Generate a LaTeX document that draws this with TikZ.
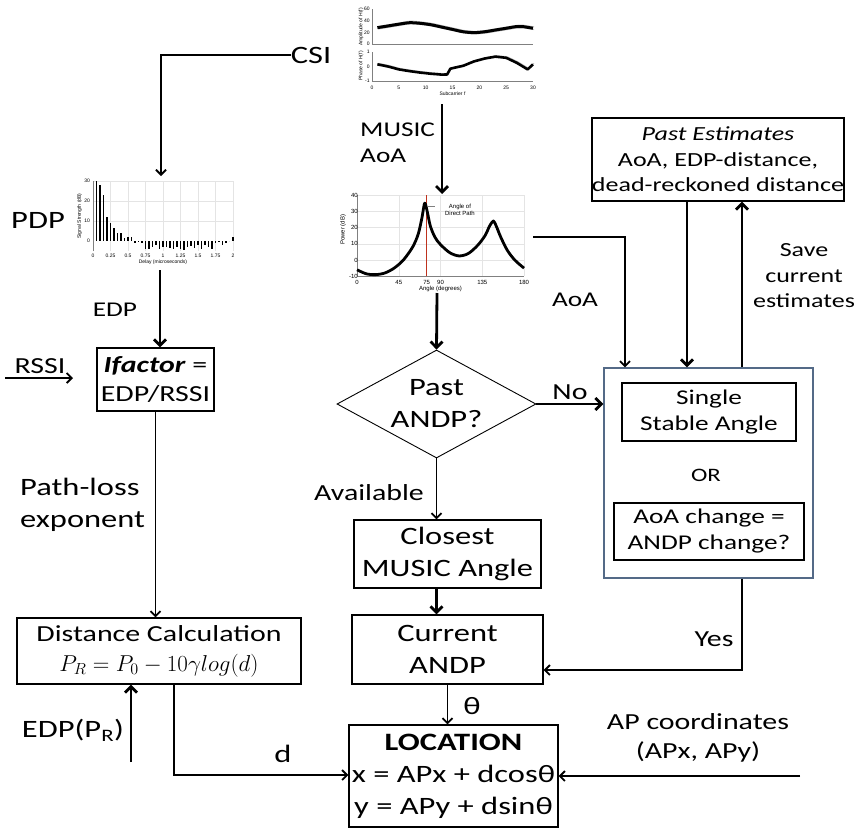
\documentclass[tikz,border=0pt]{standalone}
\usepackage{fix-cm}
\usepackage{fontspec}
\setmainfont{Carlito}[FakeStretch=1.3]
\newfontfamily\plotfont{Liberation Sans}
\usetikzlibrary{arrows.meta,shapes.geometric}

\definecolor{framegray}{RGB}{84,106,135}
\definecolor{gridgray}{RGB}{228,228,228}
\definecolor{pathred}{RGB}{190,50,30}

\newcommand\fa{\fontsize{25}{32}\selectfont}
\newcommand\fb{\fontsize{23}{29}\selectfont}
\newcommand\fc{\fontsize{21}{26}\selectfont}
\newcommand\fd{\fontsize{20}{25.5}\selectfont}

\begin{document}
\begin{tikzpicture}[x=1pt,y=-1pt]

\useasboundingbox (0,0) rectangle (859,833);

\tikzstyle{box}=[draw,line width=1.4pt,align=center,inner sep=0pt,font=\fb];
\tikzstyle{lbl}=[align=center,inner sep=0pt,font=\fb];
\tikzstyle{tiny}=[inner sep=0pt,font=\plotfont\fontsize{5}{5}\selectfont];
\tikzstyle{small}=[inner sep=0pt,font=\plotfont\fontsize{6}{6.5}\selectfont];
\tikzstyle{thin arrow}=[line width=1.8pt,-{Straight Barb[length=5pt,width=10pt]}];
\tikzstyle{thick arrow}=[line width=2.8pt,-{Straight Barb[length=6pt,width=12pt]}];

% CSI plot (amplitude and phase)
\begin{scope}[shift={(372,44)},x=5.367pt,y=0.583pt]
  \draw[gray,line width=0.4pt] (0,0) -- (0,60) (0,0) -- (30,0);
  \foreach \a in {0,20,40,60} \node[tiny,anchor=east] (amp\a) at (-0.4,\a) {\a};
  \foreach \s in {-2.5,2.5}
    \draw[gray!55,line width=0.7pt,shift={(0.2,\s)}] plot[smooth] coordinates {(1,28) (3,31) (5,34) (7,37) (9,35.5) (11,33) (13,29) (15,25) (17,21) (19,19.5) (21,21) (23,24) (25,27) (27,30) (28,30) (30,27)};
  \draw[line width=3pt] plot[smooth] coordinates {(1,28) (3,31) (5,34) (7,36.5) (9,35.5) (11,33) (13,29) (15,25) (17,21) (19,19.5) (21,21) (23,24) (25,27) (27,30) (28,30) (30,27)};
\end{scope}
\begin{scope}[shift={(372,66.5)},x=5.367pt,y=14.5pt]
  \draw[gray,line width=0.4pt] (0,-1) -- (0,1) (0,-1) -- (30,-1);
  \foreach \p/\t in {1/1,0/0,-1/-1} \node[tiny,anchor=east] (ph\p) at (-0.4,\p) {\t};
  \foreach \f in {0,5,...,30} \node[tiny] (sub\f) at (\f,-1.45) {\f};
  \node[tiny] (subcarrier) at (15,-1.9) {Subcarrier f};
  \draw[gray!55,line width=0.7pt,shift={(0.2,0.08)}] (1,0.15) -- (3,0) -- (5,-0.2) -- (7,-0.32) -- (9,-0.42) -- (11,-0.5) -- (13,-0.56) -- (14,-0.55) -- (14.6,-0.15) -- (17,0.05) -- (19,0.35) -- (21,0.55) -- (23,0.68) -- (25,0.6) -- (27,0.25) -- (29,-0.2) -- (30,0.15);
  \draw[line width=2.6pt,line join=round] (1,0.15) -- (3,0) -- (5,-0.2) -- (7,-0.32) -- (9,-0.42) -- (11,-0.5) -- (13,-0.56) -- (14,-0.55) -- (14.6,-0.15) -- (17,0.05) -- (19,0.35) -- (21,0.55) -- (23,0.68) -- (25,0.6) -- (27,0.25) -- (29,-0.2) -- (30,0.15);
\end{scope}
\node[tiny,rotate=90] (amplabel) at (361,27) {Amplitude of H(f)};
\node[tiny,rotate=90] (phlabel) at (361,66) {Phase of H(f)};

% PDP plot
\begin{scope}[shift={(93,241)},x=70pt,y=2pt]
  \foreach \t in {0.25,0.5,...,2} \draw[gridgray,line width=0.5pt] (\t,-5) -- (\t,30);
  \foreach \v in {10,20,30} \draw[gridgray,line width=0.5pt] (0,\v) -- (2,\v);
  \draw[gray,line width=0.5pt] (0,-5) -- (0,30);
  \foreach \v [count=\i] in {30,28,23,12,9,6.5,4,4,1.5,2,2,-1,-0.5,-1,-4,-4,-3,-2,-4,-3,-3,-3.5,-4,-3,-4,-4.5,-3,-2.5,-3.5,-2,-4,-2,-3,-4,-1,-0.5,-2,-1,0,2}
    \fill (0.05*\i-0.013,0) rectangle (0.05*\i+0.013,\v);
  \foreach \v in {0,10,20,30} \node[tiny,anchor=east] (pdpy\v) at (-0.04,\v) {\v};
  \foreach \t [count=\i] in {0,0.25,0.5,0.75,1,1.25,1.5,1.75,2} \node[tiny] (pdpx\i) at (\t,-7.6) {\t};
  \node[tiny] (delay) at (1,-10.6) {Delay (microseconds)};
  \node[tiny,rotate=90] (strength) at (-0.19,12.5) {Signal Strength (dB)};
\end{scope}

% MUSIC spectrum plot
\begin{scope}[shift={(357,260)},x=0.9278pt,y=1.625pt]
  \foreach \a in {45,90,135,180} \draw[gridgray,line width=0.5pt] (\a,-10) -- (\a,40);
  \foreach \v in {0,10,...,40} \draw[gridgray,line width=0.5pt] (0,\v) -- (180,\v);
  \draw[gray,line width=0.5pt] (0,-10) -- (0,40) (0,-10) -- (180,-10);
  \draw[pathred,line width=1.3pt] (75,-10) -- (75,40);
  \draw[line width=2.8pt,line join=round] plot[smooth,tension=0.5] coordinates {(0,-6) (10,-8.5) (20,-9) (30,-8) (40,-5) (50,0) (60,8) (66,16) (70,26) (73,35) (76,29) (79,21) (84,14) (90,9.5) (100,4.5) (110,2.5) (120,4) (130,9) (138,15) (143,21) (147,24) (150,21) (155,14) (162,6) (170,0) (180,-5)};
  \foreach \a in {0,45,75,90,135,180} \node[small] (angx\a) at (\a,-13.6) {\a};
  \foreach \v in {-10,0,10,20,30,40} \node[small,anchor=east] (powy\v) at (1,\v) {\v};
  \node[small] (angle) at (90,-17.6) {Angle (degrees)};
  \node[small,rotate=90] (power) at (-15,18.5) {Power (dB)};
  \draw[gray,line width=0.6pt] (76,33) -- (84,33);
  \node[small,align=center] (direct) at (111,31) {Angle of\\Direct Path};
\end{scope}

% Plot anchors for the connectors
\coordinate (csiplot-s) at (442,104);
\coordinate (music-n) at (442,194);
\coordinate (music-s) at (437,293);
\coordinate (music-e) at (533,237);
\coordinate (pdp-n) at (161,176);
\coordinate (pdp-s) at (160,270);
\coordinate (rssi-w) at (5,378);
\coordinate (rssi-e) at (73,378);
\coordinate (edp-s) at (131,762);
\coordinate (d-corner) at (174,775);
\coordinate (aoa-turn) at (625,237);
\coordinate (yes-turn) at (742,670);
\coordinate (ap-e) at (800,776);

% Boxes
\node[box] (ifactor) at (155.5,379.5) [minimum width=117pt,minimum height=63pt] {\textbf{\textit{Ifactor}} =\\EDP/RSSI};
\node[box] (dist) at (159,651) [minimum width=284pt,minimum height=66pt] {Distance Calculation\\[1pt]$P_R = P_0 - 10\gamma log(d)$};
\node[draw,diamond,line width=0.9pt,align=center,inner sep=0pt,shape aspect=1.85,minimum width=199pt,minimum height=108pt,font=\fa] (andp) at (436.5,404) {Past\\ANDP?};
\node[box,font=\fa] (closest) at (447.5,554) [minimum width=187pt,minimum height=68pt] {Closest\\MUSIC Angle};
\node[box,font=\fa] (current) at (447.5,649.5) [minimum width=191pt,minimum height=69pt] {Current\\ANDP};
\node[box,font=\fa] (location) at (453.5,776) [minimum width=209pt,minimum height=102pt] {\textbf{LOCATION}\\x = APx + dcosθ\\y = APy + dsinθ};
\node[box,font=\fd] (past) at (718,159.5) [minimum width=240pt,minimum height=83pt] {\textit{Past Estimates}\\AoA, EDP-distance,\\dead-reckoned distance};
\node[draw=framegray,line width=1.2pt,minimum width=209pt,minimum height=210pt] (check) at (708.5,473) {};
\node[box,font=\fc,line width=1.2pt] (single) at (709,412) [minimum width=174pt,minimum height=58pt] {Single\\Stable Angle};
\node[lbl,font=\fontsize{19}{21}\selectfont] (or) at (706,475) {OR};
\node[box,font=\fc,line width=1.2pt] (change) at (709,531.5) [minimum width=190pt,minimum height=57pt] {AoA change =\\ANDP change?};

% Labels
\node[lbl,font=\fa] (csi) at (311,55) {CSI};
\node[lbl,font=\fc,align=left,anchor=west] (musicaoa) at (360,143) {MUSIC\\AoA};
\node[lbl,font=\fa] (pdp) at (38,220) {PDP};
\node[lbl,font=\fc] (edp) at (115,310) {EDP};
\node[lbl] (rssi) at (40,366) {RSSI};
\node[lbl,font=\fa,align=left,anchor=west] (pathloss) at (20,505) {Path-loss\\exponent};
\node[lbl,font=\fa] (edppr) at (73,730) {EDP(P\textsubscript{R})};
\node[lbl,font=\fa] (dlabel) at (283,754) {d};
\node[lbl,font=\fa] (theta) at (472,706) {θ};
\node[lbl] (available) at (369,493) {Available};
\node[lbl] (no) at (570,392) {No};
\node[lbl,font=\fc] (aoa) at (575,300) {AoA};
\node[lbl] (yes) at (714,639) {Yes};
\node[lbl,font=\fd] (save) at (804,276) {Save\\current\\estimates};
\node[lbl] (apcoord) at (698,738) {AP coordinates\\(APx, APy)};

% Connectors
\draw[thin arrow] (csi.west) -| (pdp-n);
\draw[thick arrow] (csiplot-s) -- (music-n);
\draw[thick arrow] (pdp-s) -- (pdp-s |- ifactor.north);
\draw[thin arrow] (rssi-w) -- (rssi-e);
\draw[thin arrow] (ifactor.south) -- (ifactor.south |- dist.north);
\draw[thick arrow] (edp-s) -- (edp-s |- dist.south);
\draw[thin arrow] (d-corner |- dist.south) -- (d-corner) -- (d-corner -| location.west);
\draw[thick arrow] (music-s) -- (andp.north);
\draw[thick arrow] (andp.east) -- (andp.east -| check.west);
\draw[thin arrow] (andp.south) -- (andp.south |- closest.north);
\draw[thick arrow] (andp.south |- closest.south) -- (andp.south |- current.north);
\draw[thin arrow] (current.south) -- (current.south |- location.north);
\draw[thin arrow] (music-e) -- (aoa-turn) -- (aoa-turn |- check.north);
\draw[thick arrow] ([xshift=-31pt]past.south) -- ([xshift=-31pt]past.south |- check.north);
\draw[thick arrow] ([xshift=24pt]past.south |- check.north) -- ([xshift=24pt]past.south);
\draw[thin arrow] (yes-turn |- check.south) -- (yes-turn) -- (yes-turn -| current.east);
\draw[thin arrow] (ap-e) -- (ap-e -| location.east);

\end{tikzpicture}
\end{document}
